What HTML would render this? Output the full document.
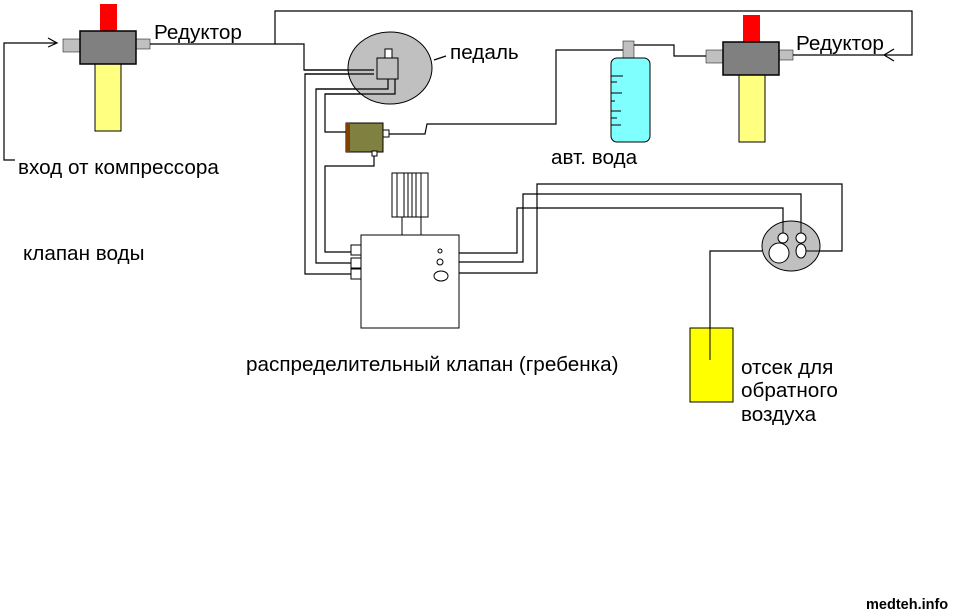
<!DOCTYPE html>
<html><head><meta charset="utf-8"><style>
html,body{margin:0;padding:0;background:#fff;}
svg{display:block;}
text{font-family:"Liberation Sans",sans-serif;font-size:20.7px;fill:#000;}
</style></head><body>
<svg width="954" height="615" viewBox="0 0 954 615" xmlns="http://www.w3.org/2000/svg">
<g fill="none" stroke="#000" stroke-width="1.2">
<polyline points="15,160 4,160 4,43 56,43"/>
<polyline points="48,38 57,43 48,47"/>
<polyline points="150,44 304,44 304,70 374,70"/>
<polyline points="275,44 275,11 912,11 912,55 793,55"/>
<polyline points="894,49 884,55 894,61"/>
<polyline points="374,74 305,74 305,274 351,274"/>
<polyline points="388,79 388,89 316,89 316,263 351,263"/>
<polyline points="395,79 395,94 325,94 325,132 346,132"/>
<polyline points="374,156 374,166 325,166 325,252 351,252"/>
<polyline points="389,134 425,134 427,124 556,124 556,50 623,50"/>
<polyline points="634,45 674,45 674,56 706,56"/>
<polyline points="459,253 517,253 517,208 783,208 783,236"/>
<polyline points="459,262 523,262 523,194 801,194 801,236"/>
<polyline points="459,273 537,273 537,184 842,184 842,251 805,251"/>
<polyline points="762,251 710,251 710,360"/>
<line x1="434" y1="60" x2="446" y2="56"/>
</g>
<rect x="100" y="4" width="17" height="27" fill="#f00"/>
<rect x="63" y="39" width="17" height="13" fill="#c0c0c0" stroke="#000" stroke-width="0.5"/>
<rect x="136" y="39" width="14" height="10" fill="#c0c0c0" stroke="#000" stroke-width="0.5"/>
<rect x="95" y="64" width="26" height="67" fill="#ffff80" stroke="#000"/>
<rect x="80" y="31" width="56" height="33" fill="#808080" stroke="#000" stroke-width="1.5"/>
<rect x="743" y="15" width="17" height="27" fill="#f00"/>
<rect x="706" y="50" width="17" height="13" fill="#c0c0c0" stroke="#000" stroke-width="0.5"/>
<rect x="779" y="50" width="14" height="10" fill="#c0c0c0" stroke="#000" stroke-width="0.5"/>
<rect x="739" y="75" width="26" height="67" fill="#ffff80" stroke="#000"/>
<rect x="723" y="42" width="56" height="33" fill="#808080" stroke="#000" stroke-width="1.5"/>
<ellipse cx="390" cy="68" rx="42" ry="36" fill="#c0c0c0" stroke="#000"/>
<g fill="none" stroke="#000" stroke-width="1.2">
<polyline points="304,70 374,70"/><polyline points="374,74 305,74"/>
<polyline points="388,79 388,89 316,89"/><polyline points="395,79 395,94 325,94"/>
</g>
<rect x="385" y="49" width="7" height="9" fill="#fff" stroke="#000"/>
<rect x="377" y="58" width="21" height="21" fill="#c0c0c0" stroke="#000"/>
<rect x="346" y="123" width="37" height="29" fill="#808040" stroke="#000"/>
<rect x="346" y="123" width="4" height="29" fill="#804000"/>
<rect x="383" y="130" width="6" height="7" fill="#fff" stroke="#000"/>
<rect x="372" y="151" width="5" height="5" fill="#fff" stroke="#000"/>
<rect x="623" y="41" width="11" height="17" fill="#c0c0c0" stroke="#000" stroke-width="0.5"/>
<rect x="611" y="58" width="39" height="84" rx="6" fill="#80ffff" stroke="#000"/>
<g stroke="#000" stroke-width="1">
<line x1="611" y1="76" x2="623" y2="76"/><line x1="611" y1="82" x2="617" y2="82"/>
<line x1="611" y1="93" x2="622" y2="93"/><line x1="611" y1="101" x2="615" y2="101"/>
<line x1="611" y1="111" x2="621" y2="111"/><line x1="611" y1="118" x2="617" y2="118"/>
<line x1="611" y1="125" x2="621" y2="125"/>
</g>
<rect x="392" y="173" width="36" height="44" fill="#fff" stroke="#000"/>
<g stroke="#000"><line x1="397" y1="173" x2="397" y2="217"/><line x1="404" y1="173" x2="404" y2="217"/><line x1="408" y1="173" x2="408" y2="217"/><line x1="412" y1="173" x2="412" y2="217"/><line x1="416" y1="173" x2="416" y2="217"/><line x1="421" y1="173" x2="421" y2="217"/></g>
<rect x="402" y="217" width="19" height="18" fill="#fff" stroke="#000"/>
<rect x="361" y="235" width="98" height="93" fill="#fff" stroke="#000"/>
<rect x="351" y="245" width="10" height="10" fill="#fff" stroke="#000"/>
<rect x="351" y="258" width="10" height="10" fill="#fff" stroke="#000"/>
<rect x="351" y="269" width="10" height="10" fill="#fff" stroke="#000"/>
<circle cx="440" cy="251" r="2" fill="none" stroke="#000"/>
<circle cx="440" cy="262" r="3" fill="none" stroke="#000"/>
<ellipse cx="441" cy="276" rx="7" ry="5" fill="none" stroke="#000"/>
<ellipse cx="791" cy="246" rx="29" ry="25" fill="#c0c0c0" stroke="#000"/>
<circle cx="783" cy="238" r="5" fill="#fff" stroke="#000"/>
<circle cx="801" cy="238" r="5" fill="#fff" stroke="#000"/>
<circle cx="779" cy="253" r="10" fill="#fff" stroke="#000"/>
<ellipse cx="801" cy="251" rx="5" ry="7" fill="#fff" stroke="#000"/>
<line x1="783" y1="208" x2="783" y2="233" stroke="#000"/>
<line x1="801" y1="194" x2="801" y2="233" stroke="#000"/>
<line x1="842" y1="251" x2="806" y2="251" stroke="#000"/>
<rect x="690" y="328" width="43" height="74" fill="#ffff00" stroke="#000"/>
<line x1="710" y1="328" x2="710" y2="360" stroke="#000"/>
<text x="154" y="39">Редуктор</text>
<text x="796" y="50">Редуктор</text>
<text x="450" y="59">педаль</text>
<text x="551" y="164">авт. вода</text>
<text x="18" y="174">вход от компрессора</text>
<text x="23" y="260">клапан воды</text>
<text x="246" y="371">распределительный клапан (гребенка)</text>
<text x="741" y="374">отсек для</text>
<text x="741" y="397">обратного</text>
<text x="741" y="421">воздуха</text>
<text x="866" y="609" style="font-size:14.5px;font-weight:bold">medteh.info</text>
</svg>
</body></html>
